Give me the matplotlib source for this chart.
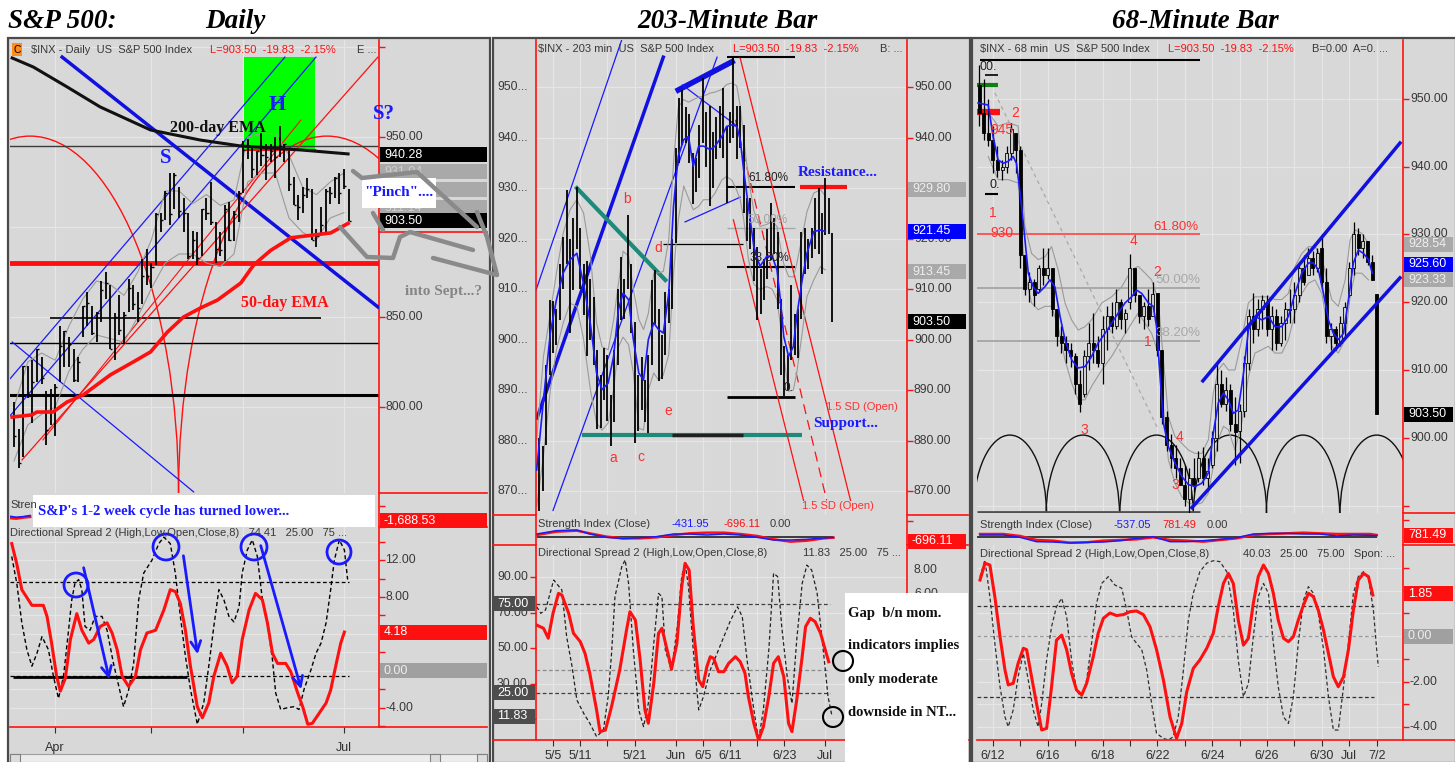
import matplotlib
matplotlib.use("Agg")
import matplotlib.pyplot as plt
import matplotlib.patches as mpatches
import matplotlib.transforms as mtransforms

# ------------------------------------------------------------------
# Daily panel data (one bar per session, 19 Mar -> 2 Jul 2009)
# ------------------------------------------------------------------
daily_high = [803, 788, 823, 823, 826, 832, 828, 809, 810, 813,
              845, 842, 839, 832, 828, 856, 864, 856, 853, 870,
              875, 868, 852, 862, 853, 871, 868, 864, 882, 888,
              880, 908, 908, 920, 930, 930, 922, 916, 908, 898,
              897, 910, 916, 925, 903, 897, 912, 914, 909, 920,
              948, 949, 945, 942, 952, 946, 946, 950, 956, 946,
              942, 928, 918, 922, 927, 921, 899, 911, 921, 922,
              928, 930, 932, 921]
daily_low = [778, 766, 772, 805, 791, 814, 813, 779, 790, 784,
             814, 822, 822, 814, 814, 839, 845, 840, 836, 847,
             860, 832, 826, 840, 835, 853, 854, 847, 857, 868,
             866, 879, 897, 904, 901, 910, 905, 897, 882, 882,
             879, 884, 904, 901, 880, 884, 881, 892, 892, 903,
             919, 938, 927, 929, 934, 926, 936, 927, 939, 936,
             920, 912, 904, 908, 916, 893, 889, 896, 896, 913,
             916, 913, 921, 903.5]
daily_close = [784, 769, 823, 806, 814, 832, 816, 787, 798, 811,
               834, 842, 835, 815, 825, 856, 858, 841, 852, 865,
               869, 832, 850, 843, 851, 866, 857, 855, 873, 873,
               878, 907, 904, 919, 907, 929, 909, 908, 884, 893,
               883, 910, 908, 903, 888, 887, 910, 893, 907, 919,
               943, 945, 932, 942, 940, 939, 942, 939, 945, 946,
               924, 912, 911, 918, 921, 893, 895, 901, 920, 919,
               927, 919, 923, 903.5]
daily_ticks = [9, 30, 50, 72]
daily_tick_labels = ["Apr", "", "", "Jul"]

ema50_x = [-0.4, 3.9, 5.0, 8.5, 11.6, 15.1, 21.0, 26.0, 29.8, 33.5, 37.0,
           40.7, 44.4, 49.5, 52.3, 56.0, 60.4, 69.1, 72.9]
ema50 = [794.4, 795.6, 797.2, 797.2, 802.8, 806.7, 817.8, 825.0, 830.6, 841.7,
         850.0, 855.0, 859.4, 868.9, 878.9, 887.0, 894.0, 896.7, 902.0]
ema200_x = [-0.4, 4.2, 11.6, 18.8, 29.8, 40.7, 49.5, 62.6, 72.9]
ema200 = [993.9, 988.9, 977.8, 966.7, 953.9, 948.3, 945.0, 942.8, 940.6]

dband_x = [0, 3, 6, 9, 12, 15, 18, 21, 24, 27, 30, 33, 36, 39, 42, 45, 48,
           51, 54, 57, 60, 63, 66, 69, 72]
dband_up = [800, 825, 830, 826, 845, 860, 870, 868, 862, 875, 893, 920, 920,
            913, 918, 912, 915, 950, 952, 952, 940, 922, 918, 925, 930]
dband_lo = [770, 790, 796, 800, 820, 832, 840, 838, 836, 850, 866, 880, 885,
            885, 880, 878, 885, 925, 930, 930, 905, 897, 893, 905, 908]

dds_red_x = [-0.5, 0.6, 1.7, 3.9, 6.4, 7.2, 8.2, 9.3, 10.1, 11.2,
             12.3, 13.7, 14.8, 16.3, 17.4, 18.8, 20.3, 21.4, 22.5, 23.6,
             25.0, 26.5, 27.6, 29.0, 30.9, 32.7, 34.1, 35.2, 36.3, 37.4,
             38.5, 40.0, 41.1, 42.5, 43.6, 45.1, 46.5, 47.6, 48.7, 49.8,
             51.3, 52.7, 54.2, 55.3, 56.4, 57.5, 59.3, 60.4, 61.9, 63.0,
             64.1, 65.1, 66.6, 68.1, 69.1, 70.2, 71.3, 72.1]
dds_red = [13.8, 11.6, 8.8, 7.1, 7.1, 5.9, 3.0, -0.6, -2.2, -0.8,
           3.4, 6.2, 4.4, 3.0, 3.4, 4.8, 5.2, 4.1, 2.3, -0.6,
           -1.7, -0.6, 2.3, 4.1, 4.4, 6.6, 8.8, 8.6, 7.3, 4.4,
           0.5, -3.9, -5.1, -3.5, -0.6, 1.9, 0.5, -1.3, -0.6, 3.4,
           6.6, 8.4, 7.7, 5.2, 1.9, 0.8, 0.8, -0.1, -2.4, -3.9,
           -5.8, -5.7, -4.6, -3.5, -2.1, 0.5, 3.0, 4.2]
dds_blk_x = [-0.5, 0.6, 1.7, 2.8, 3.9, 5.0, 6.1, 7.5, 8.6, 9.7,
             10.8, 11.9, 12.6, 13.3, 14.1, 14.8, 15.5, 16.6, 17.7, 19.2,
             20.3, 21.7, 23.2, 23.9, 25.0, 26.1, 27.2, 28.3, 30.1, 31.6,
             32.7, 34.1, 35.2, 36.3, 37.4, 38.5, 40.0, 41.4, 42.5, 43.6,
             44.7, 45.8, 46.9, 48.0, 49.1, 49.8, 50.9, 52.0, 53.1, 54.2,
             55.3, 56.4, 57.1, 58.2, 59.7, 61.1, 62.2, 63.3, 64.8, 65.9,
             67.0, 68.1, 69.1, 69.9, 71.0, 72.1, 72.8]
dds_blk = [12.4, 9.5, 5.2, 2.3, 0.5, 1.9, 3.7, 2.3, -0.6, -3.0,
           -0.6, 4.4, 7.7, 9.5, 9.9, 8.8, 4.8, 4.4, 5.9, 5.9,
           4.4, 0.8, -2.4, -3.9, -2.1, 0.8, 7.7, 10.6, 12.0, 13.8,
           14.5, 13.8, 10.6, 5.9, 1.6, -2.0, -5.8, -3.5, 0.5, 4.8,
           8.8, 7.7, 5.9, 5.3, 6.9, 10.6, 13.1, 14.2, 12.4, 7.7,
           5.2, 1.2, -2.4, -4.2, -4.0, -3.9, -4.2, -2.0, 0.1, 1.9,
           3.0, 5.2, 8.8, 12.0, 14.2, 13.1, 9.9]
dsi_x = [-0.8, 0.5, 2.0, 3.5]
dsi_red = [-1450, -1500, -1380, -1300]
dsi_blue = [-1250, -1350, -1280, -1150]

# ------------------------------------------------------------------
# 203-minute panel data (two bars per session, 1 May -> 2 Jul)
# ------------------------------------------------------------------
m_high = [880.5, 879, 895, 907.9, 907.7, 906, 915, 920.3, 929.6, 920,
          924, 930.2, 922, 915, 915.6, 912, 908.4, 898, 893, 898.4,
          896.9, 889, 898, 910, 916.4, 912, 924.6, 915, 903.4, 893,
          896.6, 892, 897, 911.8, 913.8, 906, 901, 909.5, 910, 920,
          938, 947.8, 949.4, 946, 944.7, 937, 936, 942.5, 951.7, 945,
          946.3, 941, 944, 946.3, 949.8, 942, 945, 956.2, 946.3, 946.2,
          942.5, 928, 928, 922, 918.4, 914, 916, 921.9, 927.1, 924,
          921.4, 908, 898.7, 897, 910.9, 905, 906, 921.4, 922, 920,
          922, 928, 930, 925, 931.9, 928, 921.2]
m_low = [866.1, 870, 879.2, 893, 897.3, 899, 903.9, 910, 915, 901.4,
         909.8, 918, 910, 904.9, 896.8, 900, 895, 882.3, 882.5, 888,
         884, 878.9, 883.7, 895, 903.8, 904, 910, 901.4, 879.6, 882,
         886, 883.8, 881.5, 895, 903, 891.9, 892.3, 897, 903.3, 906,
         919.1, 935, 938.5, 939, 935, 926.9, 929.3, 932, 939, 934.1,
         926.4, 930, 935.7, 938, 936, 927, 939, 940, 935.7, 938,
         925, 919.6, 918, 911.6, 903.8, 905, 907.9, 912, 915.8, 917,
         906, 893, 888.9, 890, 896, 897, 896.3, 904, 913, 914,
         916.2, 918, 917, 912.9, 920.8, 921, 903.5]
m_ticks = [2, 6, 10, 14, 20, 24, 28, 32, 36, 42]
m_tick_labels = ["5/5", "5/11", "", "5/21", "Jun", "6/5", "6/11", "", "6/23", "Jul"]

m_ma_x = [-0.4, 0.6, 1.6, 2.5, 3.5, 4.5, 5.5, 6.5, 7.5, 8.4,
          9.2, 10.1, 10.9, 11.6, 12.3, 13.1, 13.8, 14.6, 15.3, 16.0,
          16.8, 17.5, 18.2, 19.0, 19.7, 20.4, 21.2, 21.9, 22.6, 23.4,
          24.1, 25.1, 25.8, 26.8, 27.5, 28.3, 29.0, 29.5, 30.0, 30.7,
          31.5, 32.4, 33.4, 34.2, 34.9, 35.4, 35.9, 36.6, 37.3, 37.8,
          38.6, 39.3, 40.3, 41.3, 42.0]
m_ma = [874.2, 888.1, 901.3, 907.9, 913.2, 915.8, 917.1, 911.0, 903.0, 893.4,
        890.1, 891.4, 896.7, 905.9, 909.2, 907.9, 900.0, 893.4, 892.0, 900.0,
        903.3, 902.0, 901.3, 909.2, 926.4, 936.3, 939.6, 940.2, 934.3, 938.3,
        938.3, 937.6, 938.3, 940.2, 942.2, 942.5, 942.2, 939.6, 933.6, 926.4,
        918.4, 914.5, 916.5, 916.5, 913.8, 907.9, 900.6, 896.7, 898.6, 904.6,
        911.8, 917.1, 921.4, 921.7, 921.4]
m_band_up = [880.2, 896.7, 905.2, 913.2, 921.1, 925.7, 927.7, 925.0, 916.5, 903.3,
             898.6, 898.0, 903.9, 911.0, 917.5, 916.5, 910.0, 904.0, 902.0, 905.2,
             913.2, 913.2, 913.5, 919.8, 935.0, 946.0, 947.5, 947.0, 947.5, 948.0,
             948.2, 948.8, 949.0, 949.5, 950.5, 950.8, 950.2, 946.2, 940.0, 932.0,
             925.5, 922.4, 922.8, 923.4, 922.4, 918.4, 915.0, 912.5, 912.4, 915.0,
             920.4, 925.3, 929.0, 929.7, 928.4]
m_band_lo = [867.0, 877.0, 890.0, 898.0, 903.3, 907.2, 906.6, 900.0, 890.0, 883.5,
             882.1, 883.5, 890.1, 898.6, 900.5, 899.0, 893.4, 882.5, 882.1, 890.1,
             893.4, 892.0, 893.0, 897.0, 913.2, 923.7, 930.4, 928.0, 925.7, 926.4,
             927.7, 927.7, 929.0, 931.6, 932.3, 931.5, 929.5, 927.7, 924.0, 916.0,
             911.0, 909.9, 910.5, 910.0, 907.9, 903.0, 896.7, 889.8, 890.0, 893.4,
             901.3, 908.5, 911.8, 914.5, 913.8]

m_ds_red_x = [-0.4, 0.6, 1.3, 2.0, 2.8, 3.3, 4.3, 5.0, 6.0, 6.7,
              7.4, 8.4, 8.9, 9.7, 10.6, 11.8, 12.8, 13.3, 14.1, 14.8,
              15.5, 16.0, 16.8, 17.5, 18.0, 19.0, 19.4, 20.2, 20.9, 21.4,
              22.0, 22.6, 23.4, 24.0, 24.6, 25.1, 25.6, 26.3, 27.1, 27.8,
              28.8, 29.5, 30.2, 30.7, 31.5, 32.2, 32.9, 33.7, 34.4, 35.1,
              35.9, 36.6, 37.1, 37.8, 38.6, 39.1, 39.8, 40.5, 41.3, 42.0, 42.5]
m_ds_red = [63.0, 61.2, 55.6, 69.6, 80.8, 79.9, 69.6, 58.4, 53.7, 47.1,
            35.9, 15.3, 3.1, 4.0, 17.2, 37.8, 60.2, 70.5, 65.8, 43.4,
            15.3, 7.8, 30.3, 58.4, 61.2, 45.2, 38.1, 52.7, 84.6, 97.7,
            93.9, 62.1, 32.1, 28.4, 39.6, 45.2, 44.3, 36.8, 36.8, 41.5,
            45.2, 42.4, 35.9, 22.8, 7.8, -1.6, 5.9, 22.8, 41.5, 45.2,
            34.0, 7.8, 3.1, 20.9, 45.2, 62.1, 66.8, 64.9, 58.4, 49.0, 42.4]
m_ds_blk_x = [-0.4, 0.2, 0.9, 2.1, 3.3, 4.0, 4.8, 5.5, 6.5, 7.4,
              8.4, 9.4, 10.1, 10.6, 11.1, 12.1, 12.6, 13.1, 13.8, 14.6,
              15.3, 16.0, 16.8, 17.5, 18.0, 18.5, 19.4, 20.2, 20.9, 21.4,
              21.9, 22.6, 23.4, 24.1, 25.1, 26.1, 27.1, 28.1, 29.1, 29.8,
              30.5, 31.5, 32.2, 32.9, 33.7, 34.4, 35.0, 35.6, 36.4, 37.1,
              37.8, 38.6, 39.3, 40.0, 40.8, 41.8, 42.4, 43.0]
m_ds_blk = [73.3, 69.6, 71.5, 88.3, 82.7, 56.5, 39.6, 20.9, 13.4, 7.8,
            0.3, 4.0, 22.8, 47.1, 79.0, 95.8, 99.6, 86.4, 49.0, 15.3,
            5.9, 19.0, 52.7, 80.8, 79.0, 49.0, 37.8, 60.2, 90.2, 97.7,
            84.6, 49.0, 15.3, 22.8, 37.8, 47.1, 56.5, 65.8, 73.3, 67.7,
            43.4, 15.3, -1.6, 15.3, 49.0, 92.1, 90.2, 62.1, 34.0, 19.0,
            54.6, 86.4, 96.7, 93.9, 80.8, 45.2, 22.8, 11.5]
m_si_x = [-0.4, 2.5, 5.5, 7.4, 9.9, 12.3, 14.8, 17.2, 19.7, 22.1,
          24.6, 27.1, 29.5, 32.0, 34.4, 36.9, 39.3, 41.8, 43.2]
m_si_red = [350, 850, 1000, 600, 100, -150, -150, 0, 350, 600,
            700, 700, 500, 200, -300, -650, -500, -150, -50]
m_si_blue = [500, 1000, 1100, 500, 0, -200, -50, 100, 500, 500,
             350, 500, 350, 0, -400, -400, -300, -100, 0]

# ------------------------------------------------------------------
# 68-minute panel data (six bars per session, 11 Jun -> 2 Jul)
# ------------------------------------------------------------------
h_open = [952, 948, 945,
          944, 941, 939.5, 940, 942, 945,
          942.5, 927, 922, 923, 922, 925,
          924, 925, 919, 915, 914, 913,
          912, 908, 906.5, 912, 914, 913,
          911, 916, 918, 916.5, 920, 917.5,
          920, 925, 921, 918, 919.5, 918,
          921.4, 913, 903, 899, 897, 895.5,
          893, 891, 894, 894, 897, 894,
          896, 900, 908, 905, 907, 902,
          901, 904, 911, 918, 916, 919,
          920, 916, 918, 914, 917, 919,
          919, 921, 925, 924, 926.5, 925,
          928, 923, 915, 916, 914, 917,
          921, 925, 930, 928, 929, 926,
          921.2]
h_high = [955, 953, 950,
          946, 943, 941, 943, 946.5, 945,
          943, 927, 924.5, 923.5, 925.5, 928,
          928, 925, 919, 916.5, 915, 914,
          912.5, 910, 913, 917, 918.4, 915,
          918, 919.5, 920, 921.9, 920.5, 919,
          927.1, 925, 921, 920, 922, 923,
          921.4, 913, 904, 900.5, 899, 897,
          896, 895.5, 897, 898, 898.7, 897,
          901, 910.9, 910, 909, 908, 906,
          905, 912, 919, 921.4, 920.5, 921,
          921, 919.5, 919, 918, 920, 922,
          923, 926, 927, 928, 927.5, 928,
          930, 925, 917, 916.5, 918, 920,
          926, 931.9, 931, 930, 929, 927,
          921.2]
h_low = [946, 944, 943,
         939, 938.5, 938, 939, 941, 939,
         925, 921, 920, 919.5, 921.5, 922.5,
         923.5, 918, 913.5, 912.5, 911, 910.5,
         906.5, 903.8, 906, 910, 911, 910.5,
         908, 913, 915.5, 916, 916, 915.5,
         919, 920, 917, 916, 916.5, 918,
         912, 902, 898, 895.5, 894, 893,
         890, 888.9, 892, 893.5, 893, 892.5,
         895.5, 898, 904.5, 904, 901, 896,
         896.3, 903, 910, 914, 915, 916,
         915, 913, 913, 913.5, 914.5, 917,
         917, 920, 922.5, 924, 924, 924.5,
         922, 914, 913, 912.9, 913.5, 915,
         920.8, 924, 927, 926.5, 925.5, 923.3,
         903.5]
h_close = [948, 945, 944,
           941, 939.5, 940, 942, 945.5, 942.5,
           927, 922, 923, 921, 925, 924,
           925, 919, 915, 914, 913, 912,
           908, 905, 912, 914, 913, 911,
           916, 918, 916.5, 920, 917.5, 918.4,
           925, 921, 918, 919.5, 917.5, 921.2,
           913, 903, 899, 897, 895.5, 893,
           891, 894, 893, 897, 894, 895.1,
           900, 908, 905, 907, 902, 900.9,
           904, 911, 918, 916, 919, 920.3,
           916, 918, 914, 917, 919, 918.9,
           921, 925, 923, 926.5, 925, 927.2,
           923, 915, 916, 914, 917, 919.3,
           925, 930, 928, 929, 926, 923.3,
           903.5]
h_ticks = list(range(15))
h_tick_labels = ["6/12", "", "6/16", "", "6/18", "", "6/22", "", "6/24", "",
                 "6/26", "", "6/30", "Jul", "7/2"]

h_ma_x = [-0.54, -0.17, 0.01, 0.19, 0.38, 0.56, 0.74, 0.86, 1.05, 1.17,
          1.29, 1.47, 1.65, 1.9, 2.08, 2.26, 2.45, 2.63, 2.87, 3.11,
          3.36, 3.6, 3.84, 4.09, 4.33, 4.57, 4.82, 5.06, 5.24, 5.43,
          5.67, 5.85, 5.97, 6.09, 6.22, 6.4, 6.64, 6.89, 7.13, 7.37,
          7.62, 7.86, 8.04, 8.22, 8.41, 8.59, 8.77, 8.95, 9.14, 9.32,
          9.56, 9.81, 10.05, 10.29, 10.54, 10.78, 11.02, 11.27, 11.51, 11.69,
          11.87, 12.06, 12.24, 12.42, 12.6, 12.79, 12.97, 13.15, 13.33, 13.52,
          13.7, 13.84]
h_ma = [949.4, 949.1, 944.4, 941.0, 940.5, 940.8, 941.5, 940.5, 934.1, 929.2,
        924.3, 922.3, 921.3, 922.3, 923.3, 922.3, 917.9, 914.5, 911.5, 910.3,
        910.5, 912.0, 914.0, 915.4, 916.9, 918.4, 919.9, 920.8, 921.8, 921.3,
        919.9, 919.4, 916.4, 909.5, 902.2, 898.7, 896.3, 894.3, 893.1, 892.8,
        893.3, 894.8, 900.7, 905.1, 906.6, 905.6, 903.6, 904.1, 909.5, 915.9,
        917.9, 917.4, 917.9, 916.4, 916.4, 917.9, 921.3, 924.3, 925.8, 925.8,
        924.8, 921.3, 917.4, 915.4, 914.5, 915.4, 920.4, 925.8, 927.7, 927.2,
        926.3, 924.3]
h_band_x = [-0.17, 0.19, 0.56, 0.92, 1.17, 1.41, 1.65, 1.9, 2.14, 2.38,
            2.63, 2.87, 3.11, 3.36, 3.6, 3.97, 4.33, 4.7, 5.06, 5.3,
            5.55, 5.79, 6.03, 6.22, 6.4, 6.64, 6.89, 7.13, 7.37, 7.62,
            7.86, 8.04, 8.22, 8.41, 8.59, 8.83, 9.08, 9.32, 9.56, 9.81,
            10.05, 10.29, 10.54, 10.78, 11.02, 11.27, 11.51, 11.75, 12.0, 12.18,
            12.36, 12.6, 12.85, 13.03, 13.21, 13.45, 13.7]
h_band_up = [948.0, 946.0, 946.5, 946.0, 931.2, 927.2, 926.3, 926.7, 928.2, 924.8,
             919.9, 917.4, 915.9, 916.4, 917.4, 919.9, 920.8, 922.3, 924.8, 925.3,
             924.3, 923.3, 920.4, 911.5, 903.1, 900.2, 899.2, 898.2, 897.7, 897.7,
             899.7, 906.6, 910.0, 911.0, 910.0, 910.0, 914.5, 919.9, 920.8, 920.8,
             920.8, 920.4, 920.4, 921.3, 925.3, 927.2, 928.2, 928.2, 926.7, 923.3,
             920.4, 919.4, 923.3, 929.2, 930.7, 930.2, 928.7]
h_band_lo = [941.5, 938.1, 938.1, 937.6, 924.3, 919.9, 918.9, 919.4, 919.4, 916.4,
             911.5, 908.1, 905.6, 905.6, 907.6, 910.0, 912.0, 914.5, 916.9, 918.4,
             916.9, 915.4, 912.5, 904.6, 896.8, 893.3, 891.3, 890.4, 890.1, 890.4,
             891.8, 895.8, 899.7, 901.7, 901.2, 898.2, 902.2, 909.0, 912.5, 913.0,
             913.5, 912.5, 912.5, 914.5, 918.4, 921.3, 922.8, 923.3, 921.3, 916.9,
             913.5, 912.5, 914.5, 920.8, 924.3, 924.3, 923.3]

h_ds_red_x = [-0.47, -0.29, -0.11, 0.07, 0.26, 0.44, 0.56, 0.74, 0.92, 1.11,
              1.23, 1.41, 1.59, 1.78, 1.96, 2.14, 2.32, 2.51, 2.69, 2.87,
              3.05, 3.24, 3.42, 3.66, 3.84, 4.03, 4.27, 4.51, 4.76, 5.0,
              5.24, 5.49, 5.73, 5.97, 6.22, 6.46, 6.7, 6.89, 7.07, 7.31,
              7.55, 7.8, 8.04, 8.22, 8.41, 8.59, 8.77, 8.95, 9.14, 9.32,
              9.5, 9.68, 9.87, 10.05, 10.23, 10.41, 10.6, 10.78, 10.96, 11.14,
              11.33, 11.51, 11.69, 11.87, 12.06, 12.24, 12.42, 12.6, 12.79, 12.97,
              13.15, 13.33, 13.52, 13.7, 13.86]
h_ds_red = [2.46, 3.2, 3.12, 1.73, -0.03, -1.49, -2.15, -2.08, -1.2, -0.54,
            -0.6, -1.79, -2.96, -4.13, -4.06, -2.23, -0.18, 0.04, -0.6, -1.64,
            -2.37, -2.59, -2.08, -0.91, 0.12, 0.78, 1.01, 0.9, 0.94, 1.07,
            1.1, 0.94, 0.41, -0.6, -1.93, -3.55, -4.5, -3.84, -2.45, -1.42,
            -1.05, -0.54, 0.12, 1.29, 2.31, 2.75, 2.31, 0.7, -0.4, -0.1,
            1.44, 2.61, 3.12, 2.75, 1.88, 0.7, -0.1, -0.25, -0.03, 0.7,
            1.36, 1.88, 1.73, 1.14, 0.26, -0.76, -1.79, -2.23, -1.79, -0.6,
            1.14, 2.46, 2.75, 2.61, 1.8]
h_ds_blk_x = [-0.47, -0.29, -0.11, 0.07, 0.26, 0.44, 0.56, 0.74, 0.92, 1.11,
              1.29, 1.47, 1.65, 1.78, 1.96, 2.14, 2.32, 2.51, 2.69, 2.87,
              3.05, 3.24, 3.42, 3.6, 3.78, 3.97, 4.21, 4.45, 4.7, 4.88,
              5.06, 5.24, 5.43, 5.61, 5.79, 5.97, 6.22, 6.4, 6.58, 6.76,
              6.95, 7.13, 7.31, 7.55, 7.8, 8.04, 8.28, 8.53, 8.77, 8.95,
              9.14, 9.32, 9.5, 9.68, 9.87, 10.05, 10.23, 10.41, 10.6, 10.78,
              10.96, 11.14, 11.33, 11.51, 11.69, 11.87, 12.06, 12.24, 12.42, 12.6,
              12.79, 12.97, 13.15, 13.33, 13.52, 13.7, 13.88, 14.0, 14.06]
h_ds_blk = [2.61, 3.34, 1.73, -0.32, -2.23, -3.55, -3.99, -3.25, -1.79, -0.76,
            -1.93, -3.25, -3.99, -2.96, -1.05, 0.41, 1.29, 1.66, 0.85, -1.05,
            -2.37, -2.74, -1.93, -0.32, 1.44, 2.31, 2.61, 2.24, 2.1, 1.14,
            -0.03, -0.32, -0.6, -1.49, -2.96, -4.28, -4.5, -4.57, -4.43, -3.55,
            -1.49, 0.7, 1.88, 2.83, 3.2, 3.31, 3.27, 2.83, 1.14, -1.05,
            -2.67, -2.08, -0.03, 1.73, 2.31, 1.88, -0.32, -2.23, -3.55, -3.84,
            -2.67, -0.32, 1.58, 2.17, 1.88, 1.0, -0.6, -2.67, -4.13, -4.13,
            -2.23, -0.32, 1.88, 2.61, 2.83, 2.54, 1.14, -0.6, -1.35]
h_si_x = [-0.47, 0.38, 0.99, 1.59, 2.2, 2.81, 3.42, 4.03, 4.64, 5.24,
          5.85, 6.46, 7.07, 7.68, 8.28, 8.89, 9.5, 10.11, 10.72, 11.33,
          11.93, 12.54, 13.15, 13.76, 14.0]
h_si_red = [400, 400, 100, -500, -600, -900, -850, -600, -500, -400,
            -100, -500, -600, -750, -500, -250, 250, 400, 500, 600,
            500, 400, 400, 400, 250]
h_si_blue = [250, 250, -100, -750, -800, -950, -850, -800, -600, -250,
             0, -750, -750, -600, -400, -150, 400, 500, 500, 400,
             400, 100, 250, 200, 150]
h_cycle_peaks = [0.62, 3.28, 5.97, 8.65, 11.31, 14.0]

# ------------------------------------------------------------------
# look
# ------------------------------------------------------------------
W, H = 1455, 762
BG = "#d8d8d8"
GRID = "#e6e6e6"
RED = "#ff1010"
BLUE = "#1a1aff"
TEAL = "#1d8a7a"
UI = "Liberation Sans"
SERIF = "Liberation Serif"
LBL = "#383838"

fig = plt.figure(figsize=(W / 100, H / 100), dpi=100)
fig.patch.set_facecolor("white")

bgax = fig.add_axes([0, 0, 1, 1], zorder=-10)
bgax.set_xlim(0, W)
bgax.set_ylim(H, 0)
bgax.axis("off")
for x0, x1 in [(8, 490), (493, 970), (972, 1456)]:
    bgax.add_patch(mpatches.Rectangle((x0, 38), x1 - x0, H - 37, fc=BG,
                                      ec="#4a4a4a", lw=1.6))


def add_ax(x0, y0, x1, y1, xlim, ylim):
    ax = fig.add_axes([x0 / W, 1 - y1 / H, (x1 - x0) / W, (y1 - y0) / H])
    ax.set_facecolor(BG)
    ax.set_xlim(*xlim)
    ax.set_ylim(*ylim)
    for s in ax.spines.values():
        s.set_visible(False)
    ax.tick_params(left=False, bottom=False, labelleft=False, labelbottom=False)
    ax.set_axisbelow(True)
    return ax


def grid(ax, xt, yt):
    ax.set_xticks(xt)
    ax.set_yticks(yt)
    ax.grid(True, color=GRID, lw=0.9)


def red_side(ax, side="right"):
    ax.spines[side].set_visible(True)
    ax.spines[side].set_color(RED)
    ax.spines[side].set_linewidth(1.2)
    if side == "right":
        ax.tick_params(axis="y", right=True, color=RED, length=4, width=1)


def side_text(ax, xpx, val, s, color=LBL, size=8.8, ha="left"):
    tr = mtransforms.blended_transform_factory(fig.transFigure, ax.transData)
    ax.text(xpx / W, val, s, transform=tr, color=color, fontsize=size, ha=ha,
            va="center", family=UI, clip_on=False, zorder=6)


def vbox(ax, val, s, x0, x1, fc, tc="white", hpx=15):
    tr = mtransforms.blended_transform_factory(fig.transFigure, ax.transData)
    y0, y1 = ax.get_ylim()
    hd = hpx * (y1 - y0) / (ax.get_position().height * H)
    ax.add_patch(mpatches.Rectangle((x0 / W, val - hd / 2), (x1 - x0) / W, hd,
                                    transform=tr, fc=fc, ec="none",
                                    clip_on=False, zorder=7))
    ax.text((x0 + 4) / W, val, s, transform=tr, color=tc, fontsize=9,
            family=UI, va="center", ha="left", clip_on=False, zorder=8)


def hsep(ax, val, x0, x1, color=RED, lw=1.2):
    tr = mtransforms.blended_transform_factory(fig.transFigure, ax.transData)
    ax.plot([x0 / W, x1 / W], [val, val], transform=tr, color=color, lw=lw,
            clip_on=False, zorder=5)


def date_axis(ax, ticks, labels, pad):
    ax.set_xticks(ticks, labels=labels)
    ax.tick_params(axis="x", bottom=True, labelbottom=True, length=4,
                   color="#303030", pad=pad, labelsize=9, labelcolor="#303030")
    for lab in ax.get_xticklabels():
        lab.set_family(UI)


# ------------------------------------------------------------------
# Daily panel
# ------------------------------------------------------------------
DX = (-0.88, 79.65)
dp = add_ax(10, 40, 379, 493, DX, (752.2, 1003.9))
grid(dp, daily_ticks, [800, 850, 900, 950, 1000])
red_side(dp)
dp.add_patch(mpatches.Rectangle((50.1, 942.8), 15.5, 51.6, fc="#00ff00", ec="none", zorder=1))
dp.plot([50.1, 65.6], [942.8, 942.8], color=RED, lw=1.5, zorder=2)
for cx in [3.5, 68.3]:
    dp.add_patch(mpatches.Arc((cx, 752.2), 64.8, 396.6, theta1=0, theta2=180,
                              color=RED, lw=1.0, zorder=2))
dp.axhline(945, color="#3a3a3a", lw=1.0, zorder=2)
dp.axhline(835.5, color="black", lw=1.0, zorder=2)
dp.axhline(806.7, color="black", lw=2.2, zorder=2)
dp.hlines(849.5, 7.9, 67, color="black", lw=1.2, zorder=2)
dp.axhline(880, color=RED, lw=3.5, zorder=2)
dp.plot([10.5, 79.4], [994.4, 855.6], color="#1010e0", lw=2.5, zorder=3)
dp.plot([-0.9, 65.9], [795.0, 994.4], color=BLUE, lw=0.9, zorder=3)
dp.plot([-0.9, 59.1], [815.6, 994.4], color=BLUE, lw=0.9, zorder=3)
dp.plot([-0.4, 39.2], [836.1, 752.8], color=BLUE, lw=0.9, zorder=3)
dp.plot([1.75, 79.4], [770.6, 994.4], color=RED, lw=0.9, zorder=3)
dp.plot([6.3, 62.6], [781.7, 959.4], color=RED, lw=0.8, zorder=3)
dp.plot(dband_x, dband_up, color="#9a9a9a", lw=0.8, zorder=3)
dp.plot(dband_x, dband_lo, color="#9a9a9a", lw=0.8, zorder=3)
dx = list(range(len(daily_high)))
dp.vlines(dx, daily_low, daily_high, color="black", lw=1.3, zorder=4)
dp.hlines(daily_close, dx, [x + 0.45 for x in dx], color="black", lw=1.0, zorder=4)
dp.plot(ema200_x, ema200, color="#111111", lw=2.2, zorder=5)
dp.plot(ema50_x, ema50, color=RED, lw=2.6, zorder=5)
for v in [950, 850, 800]:
    side_text(dp, 385, v, f"{v:.2f}")
vbox(dp, 940.28, "940.28", 380, 487, "black")
vbox(dp, 930.6, "931.04", 380, 487, "#a9a9a9", "#cfcfcf")
vbox(dp, 920.6, "", 380, 487, "#a9a9a9", "#cfcfcf")
vbox(dp, 910.6, "911.14", 380, 487, "#a9a9a9", "#cfcfcf")
vbox(dp, 903.5, "903.50", 380, 487, "black")
hsep(dp, 897.2, 379, 487)
hsep(dp, 752.2, 379, 487)

dsi = add_ax(10, 493, 379, 527, DX, (-2500, 1500))
red_side(dsi)
dsi.plot(dsi_x, dsi_red, color=RED, lw=2)
dsi.plot(dsi_x, dsi_blue, color=BLUE, lw=1.2)
vbox(dsi, -1688.53, "-1,688.53", 380, 487, RED)
hsep(dsi, -2500, 379, 487)

dds = add_ax(10, 527, 379, 727, DX, (-6.1, 15.6))
grid(dds, daily_ticks, [-6, -4, -2, 0, 2, 4, 6, 8, 10, 12, 14])
red_side(dds)
dds.hlines([9.6, -0.6], -0.88, 73, colors="black", linestyles=(0, (3, 2)), lw=0.9)
dds.hlines(-0.65, -0.2, 37.8, colors="black", lw=2.0)
dds.plot(dds_blk_x, dds_blk, color="black", ls=(0, (3, 2)), lw=1.0)
dds.plot(dds_red_x, dds_red, color=RED, lw=2.2)
for v in [12, 8, -4]:
    side_text(dds, 385, v, f"{v:.2f}")
vbox(dds, 4.18, "4.18", 380, 487, RED)
vbox(dds, 0.0, "0.00", 380, 487, "#a0a0a0", "#eeeeee")
hsep(dds, -6.1, 10, 487)
date_axis(dds, daily_ticks, daily_tick_labels, 7)

# ------------------------------------------------------------------
# 203-minute panel
# ------------------------------------------------------------------
MX = (-0.5, 54.0)
mp = add_ax(536, 40, 907, 515, MX, (865.3, 959.3))
grid(mp, m_ticks, list(range(870, 960, 10)))
red_side(mp)
red_side(mp, "left")
mp.plot([-0.5, 13.0], [909.8, 962.9], color=BLUE, lw=0.9)
mp.plot([2.0, 26.1], [866.2, 955.9], color=BLUE, lw=0.9)
mp.plot([-0.35, 18.2], [884.5, 955.9], color="#1010e0", lw=2.5)
mp.plot([20.4, 28.3], [949.4, 955.0], color="#1010e0", lw=4)
mp.plot([21.0, 28.8], [950.4, 942.5], color=BLUE, lw=0.9)
mp.plot([21.4, 29.5], [923.3, 928.2], color=BLUE, lw=0.9)
mp.plot([5.5, 18.5], [930.0, 911.8], color=TEAL, lw=3)
mp.hlines(881.2, 6.3, 38.6, color=TEAL, lw=3)
mp.hlines(881.2, 19.5, 29.9, color="#202020", lw=2.5)
mp.hlines(956.0, 27.6, 37.6, color="black", lw=1.5)
mp.hlines(930.2, 27.6, 37.6, color="black", lw=1.5)
mp.hlines(922.1, 27.6, 37.6, color="#a8a8a8", lw=1.0)
mp.hlines(919.0, 18.2, 29.9, color="black", lw=0.9)
mp.hlines(914.4, 27.6, 37.6, color="black", lw=1.5)
mp.hlines(888.6, 27.6, 37.6, color="black", lw=2)
mp.hlines(930.2, 38.3, 45.2, color=RED, lw=3)
mp.plot([29.5, 45.7], [955.7, 868.2], color=RED, lw=0.9)
mp.plot([28.8, 42.2], [943.5, 868.2], color=RED, lw=0.9, ls=(0, (8, 5)))
mp.plot([28.5, 38.8], [923.7, 868.2], color=RED, lw=0.9)
mp.plot(m_ma_x, m_band_up, color="#9a9a9a", lw=0.8)
mp.plot(m_ma_x, m_band_lo, color="#9a9a9a", lw=0.8)
mx = [i * 0.5 for i in range(len(m_high))]
mp.vlines(mx, m_low, m_high, color="black", lw=1.3, zorder=4)
mp.plot(m_ma_x, m_ma, color=BLUE, lw=1.2, zorder=5)
for v in range(870, 960, 10):
    side_text(mp, 497, v, f"{v}...")
    side_text(mp, 914, v, f"{v:.2f}")
vbox(mp, 929.80, "929.80", 908, 966, "#a9a9a9", "#eeeeee")
vbox(mp, 921.45, "921.45", 908, 966, "#0000ff")
vbox(mp, 913.45, "913.45", 908, 966, "#a9a9a9", "#eeeeee")
vbox(mp, 903.50, "903.50", 908, 966, "black")
hsep(mp, 865.3, 493, 536)
hsep(mp, 865.3, 907, 968)

msi = add_ax(536, 515, 907, 545, MX, (-1150, 3350))
red_side(msi)
red_side(msi, "left")
msi.hlines(0, -0.4, 43.2, color="#202020", lw=1.2)
msi.plot(m_si_x, m_si_red, color=RED, lw=1.8)
msi.plot(m_si_x, m_si_blue, color=BLUE, lw=1.1)
vbox(msi, -550, "-696.11", 908, 966, RED)
hsep(msi, -1150, 493, 536)
hsep(msi, -1150, 907, 968)

mds = add_ax(536, 545, 907, 740, MX, (-1.6, 108))
grid(mds, m_ticks, [10, 30, 50, 70, 90])
red_side(mds)
red_side(mds, "left")
mds.hlines([75, 25], -0.5, 42.7, colors="#404040", linestyles=(0, (3, 2)), lw=0.9)
mds.hlines(37.6, -0.5, 42.7, colors="#8a8a8a", linestyles=(0, (3, 2)), lw=0.9)
mds.plot(m_ds_blk_x, m_ds_blk, color="#202020", ls=(0, (3, 2)), lw=0.9)
mds.plot(m_ds_red_x, m_ds_red, color=RED, lw=2.2)
for v in [90, 70, 50, 30]:
    side_text(mds, 497, v, f"{v:.2f}")
vbox(mds, 75, "75.00", 493, 535, "#4d4d4d")
vbox(mds, 25, "25.00", 493, 535, "#4d4d4d")
vbox(mds, 11.83, "11.83", 493, 535, "#4d4d4d")
hsep(mds, -1.6, 493, 968)
mr = mds.twinx()
mr.set_ylim(-6.15, 10.09)
mr.patch.set_visible(False)
for s in mr.spines.values():
    s.set_visible(False)
mr.tick_params(right=False, labelright=False)
for v in [8, 6]:
    side_text(mr, 914, v, f"{v:.2f}")
date_axis(mds, m_ticks, m_tick_labels, 3)

# ------------------------------------------------------------------
# 68-minute panel
# ------------------------------------------------------------------
HX = (-0.58, 14.96)
hp = add_ax(977, 40, 1403, 513, HX, (888.9, 958.7))
grid(hp, h_ticks, list(range(890, 960, 10)))
red_side(hp)
for cx in h_cycle_peaks:
    hp.add_patch(mpatches.Arc((cx, 888.6), 2.68, 23.6, theta1=0, theta2=180,
                              color="#111111", lw=1.0, zorder=2))
hp.hlines(955.8, -0.47, 7.55, color="black", lw=1.5)
hp.hlines(953.5, -0.29, 0.18, color="black", lw=1.2)
hp.hlines(952.1, -0.58, 0.18, color="#108010", lw=3)
hp.hlines(948.1, -0.58, 0.25, color=RED, lw=4.5)
hp.hlines(936.0, -0.29, 0.18, color="black", lw=1.5)
hp.hlines(930.1, -0.58, 7.55, color="#ff4040", lw=1.2)
hp.hlines([922.1, 914.3], -0.58, 7.55, color="#a0a0a0", lw=1.2)
hp.hlines(889.1, -0.58, 7.55, color="#505050", lw=2)
hp.plot([0.07, 5.99], [950.9, 901.6], color="#a8a8a8", lw=0.9, ls=(0, (3, 3)))
hp.plot(h_band_x, h_band_up, color="#9a9a9a", lw=0.8)
hp.plot(h_band_x, h_band_lo, color="#9a9a9a", lw=0.8)
hx = [-3 / 6, -2 / 6, -1 / 6] + [d + j / 6 for d in range(14) for j in range(6)] + [14.0]
hp.vlines(hx, h_low, h_high, color="black", lw=0.9, zorder=4)
body = [c - o for o, c in zip(h_open, h_close)]
cols = ["#cdcdcd" if b >= 0 else "black" for b in body]
hp.bar(hx, body, bottom=h_open, width=0.11, color=cols, edgecolor="black",
       lw=0.6, zorder=5)
hp.plot(h_ma_x, h_ma, color=BLUE, lw=1.2, zorder=6)
hp.plot([7.66, 14.85], [908.4, 943.5], color="#1010e0", lw=2.5, zorder=6)
hp.plot([7.26, 14.85], [889.7, 923.6], color="#1010e0", lw=2.5, zorder=6)
for v in range(900, 960, 10):
    side_text(hp, 1410, v, f"{v:.2f}")
vbox(hp, 928.54, "928.54", 1404, 1453, "#a9a9a9", "#eeeeee")
vbox(hp, 925.60, "925.60", 1404, 1453, "#0000ff")
vbox(hp, 923.33, "923.33", 1404, 1453, "#a9a9a9", "#eeeeee")
vbox(hp, 903.50, "903.50", 1404, 1453, "black")
hsep(hp, 888.9, 1403, 1455)

hsi = add_ax(977, 513, 1403, 545, HX, (-1250, 3550))
red_side(hsi)
hsi.hlines(0, -0.58, 14.0, color="#202020", lw=1.2)
hsi.plot(h_si_x, h_si_red, color=RED, lw=1.8)
hsi.plot(h_si_x, h_si_blue, color=BLUE, lw=1.1)
vbox(hsi, 250, "781.49", 1404, 1453, RED)
hsep(hsi, -1250, 1403, 1455)

hds = add_ax(977, 545, 1403, 740, HX, (-4.57, 4.0))
grid(hds, h_ticks, [-4, -3, -2, -1, 0, 1, 2, 3])
red_side(hds)
hds.hlines([1.32, -2.67], -0.58, 13.9, colors="#303030", linestyles=(0, (3, 2)), lw=0.9)
hds.hlines(0, -0.58, 13.9, colors="#9a9a9a", linestyles=(0, (3, 2)), lw=0.9)
hds.plot(h_ds_blk_x, h_ds_blk, color="#303030", ls=(0, (3, 2)), lw=0.9)
hds.plot(h_ds_red_x, h_ds_red, color=RED, lw=2.2)
for v in [-2, -4]:
    side_text(hds, 1410, v, f"{v:.2f}")
vbox(hds, 1.85, "1.85", 1404, 1453, RED)
vbox(hds, 0.0, "0.00", 1404, 1453, "#a0a0a0", "#eeeeee")
hsep(hds, -4.57, 977, 1455)
date_axis(hds, h_ticks, h_tick_labels, 3)

# ------------------------------------------------------------------
# annotations drawn over the charts (pixel space)
# ------------------------------------------------------------------
ov = fig.add_axes([0, 0, 1, 1], zorder=20)
ov.set_xlim(0, W)
ov.set_ylim(H, 0)
ov.axis("off")
ov.patch.set_alpha(0)


def t(x, y, s, color="black", size=8, family=UI, ha="left", **kw):
    ov.text(x, y, s, color=color, fontsize=size, family=family, ha=ha,
            va="center", **kw)


title = dict(size=19.5, family=SERIF, weight="bold", style="italic")
t(8, 22, "S&P 500:", **title)
t(205, 22, "Daily", **title)
t(727, 22, "203-Minute Bar", ha="center", **title)
t(1195, 22, "68-Minute Bar", ha="center", **title)

# chart headers
ov.add_patch(mpatches.Rectangle((12, 43), 10, 13, fc="#ff8c1a", ec="none"))
t(17, 50, "C", size=7.5, ha="center")
t(31, 50, "$INX - Daily  US  S&P 500 Index", LBL)
t(210, 50, "L=903.50  -19.83  -2.15%", RED)
t(357, 50, "E ...", LBL)
t(538, 49, "$INX - 203 min  US  S&P 500 Index", LBL)
t(733, 49, "L=903.50  -19.83  -2.15%", RED)
t(880, 49, "B: ...", LBL)
t(980, 49, "$INX - 68 min  US  S&P 500 Index", LBL)
t(1168, 49, "L=903.50  -19.83  -2.15%", RED)
t(1312, 49, "B=0.00  A=0. ...", LBL)

# daily notes
sb = dict(family=SERIF, weight="bold")
t(277, 105, "H", BLUE, 16, ha="center", **sb)
t(166, 158, "S", BLUE, 15, ha="center", **sb)
t(384, 114, "S?", BLUE, 15, ha="center", **sb)
t(170, 128, "200-day EMA", "#101010", 11.5, **sb)
t(241, 303, "50-day EMA", RED, 11.5, **sb)
t(405, 292, "into Sept...?", "#858585", 11, **sb)
ov.add_patch(mpatches.Rectangle((362, 178), 74, 30, fc="white", ec="none"))
t(399, 193, '"Pinch"....', BLUE, 11, ha="center", **sb)
gray_paths = [
    [(353, 171), (362, 178), (417, 172), (477, 227)],
    [(477, 212), (487, 237), (497, 275), (433, 258)],
    [(340, 227), (367, 257), (393, 258), (400, 237), (410, 232), (473, 250)],
    [(373, 213), (383, 230)],
]
for p in gray_paths:
    ov.plot([a for a, b in p], [b for a, b in p], color="#8a8a8a", lw=3.2,
            solid_capstyle="round", solid_joinstyle="round")
t(10, 505, "Stren", LBL)
ov.add_patch(mpatches.Rectangle((33, 495), 342, 32, fc="white", ec="none"))
t(38, 512, "S&P's 1-2 week cycle has turned lower...", BLUE, 10.5, **sb)
t(10, 533, "Directional Spread 2 (High,Low,Open,Close,8)   74.41   25.00   75 ...", LBL)
for cx, cy, r in [(76, 585, 12), (166, 547, 13), (254, 547, 13), (339, 552, 12)]:
    ov.add_patch(mpatches.Circle((cx, cy), r, fc="none", ec=BLUE, lw=2))
for (x0, y0), (x1, y1) in [((83, 565), (110, 682)), ((183, 553), (198, 657)),
                           ((260, 543), (302, 692))]:
    ov.annotate("", xy=(x1, y1), xytext=(x0, y0),
                arrowprops=dict(arrowstyle="->", color=BLUE, lw=2,
                                mutation_scale=18))
ov.add_patch(mpatches.Rectangle((10, 754), 477, 8, fc="#ececec", ec="#a0a0a0", lw=0.8))
for x in (10, 430, 477):
    ov.add_patch(mpatches.Rectangle((x, 754), 10, 8, fc="#dcdcdc", ec="#808080", lw=0.8))

# 203-minute notes
t(748, 178, "61.80%", "#202020", 8.5)
t(747, 220, "50.00%", "#a0a0a0", 8.5)
t(750, 258, "38.20%", "#202020", 8.5)
t(783, 388, "0.", "#202020", 8.5)
for s, x, y in [("b", 627, 199), ("d", 658, 248), ("e", 668, 411),
                ("a", 613, 458), ("c", 641, 457)]:
    t(x, y, s, "#ff3030", 10, ha="center")
t(798, 173, "Resistance...", BLUE, 11, **sb)
t(813, 424, "Support...", BLUE, 11, **sb)
t(826, 407, "1.5 SD (Open)", "#ff3030", 8)
t(802, 506, "1.5 SD (Open)", "#ff3030", 8)
t(538, 524, "Strength Index (Close)", LBL)
t(672, 524, "-431.95", BLUE)
t(723, 524, "-696.11", RED)
t(770, 524, "0.00", LBL)
t(538, 553, "Directional Spread 2 (High,Low,Open,Close,8)", LBL)
t(803, 553, "11.83   25.00   75 ...", LBL)
ov.add_patch(mpatches.Rectangle((845, 593), 123, 169, fc="white", ec="none"))
for s, y in [("Gap  b/n mom.", 614), ("indicators implies", 646),
             ("only moderate", 680), ("downside in NT...", 713)]:
    t(848, y, s, "#101010", 10.5, **sb)
for cx, cy in [(843, 661), (833, 717)]:
    ov.add_patch(mpatches.Circle((cx, cy), 10, fc="none", ec="black", lw=1.5))

# 68-minute notes
t(980, 67, "00.", "#202020", 9)
t(1015, 113, "2", "#ff3030", 10, ha="center")
t(990, 130, "945", "#ff3030", 10)
t(990, 185, "0.", "#202020", 9)
t(993, 213, "1", "#ff3030", 10, ha="center")
t(990, 233, "930", "#ff3030", 10)
t(1153, 227, "61.80%", "#ff3030", 9.5)
t(1134, 241, "4", "#ff3030", 10, ha="center")
t(1157, 272, "2", "#ff3030", 10, ha="center")
t(1155, 280, "50.00%", "#a8a8a8", 9.5)
t(1155, 333, "38.20%", "#a8a8a8", 9.5)
t(1148, 342, "1", "#ff3030", 10, ha="center")
t(1084, 430, "3", "#ff3030", 10, ha="center")
t(1179, 437, "4", "#ff3030", 10, ha="center")
t(1175, 485, "3", "#ff3030", 10, ha="center")
t(980, 525, "Strength Index (Close)", LBL)
t(1113, 525, "-537.05", BLUE)
t(1162, 525, "781.49", RED)
t(1207, 525, "0.00", LBL)
t(980, 554, "Directional Spread 2 (High,Low,Open,Close,8)", LBL)
t(1243, 554, "40.03   25.00   75.00   Spon: ...", LBL)

fig.savefig("out.png", dpi=100, facecolor="white")
